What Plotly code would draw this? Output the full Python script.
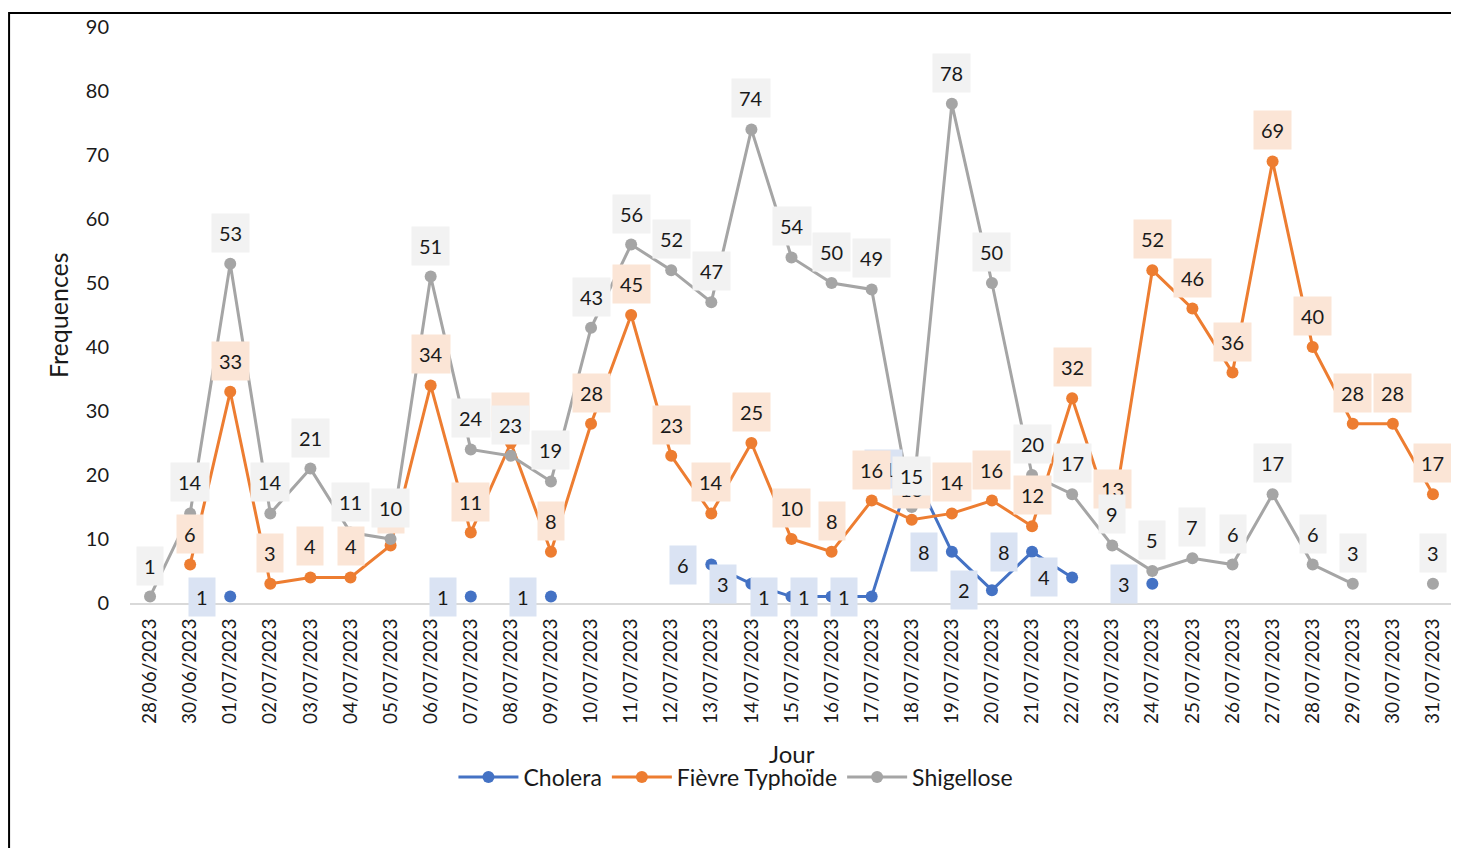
import plotly.graph_objects as go

dates = ["28/06/2023", "30/06/2023"] + [f"{d:02d}/07/2023" for d in range(1, 32)]

cholera = [None, None, 1, None, None, None, None, None, 1, None, 1, None, None, None,
           6, 3, 1, 1, 1, 21, 8, 2, 8, 4, None, 3, None, None, None, None, None, None, None]
typhoide = [None, 6, 33, 3, 4, 4, 9, 34, 11, 25, 8, 28, 45, 23, 14, 25, 10, 8, 16, 13,
            14, 16, 12, 32, 13, 52, 46, 36, 69, 40, 28, 28, 17]
shigellose = [1, 14, 53, 14, 21, 11, 10, 51, 24, 23, 19, 43, 56, 52, 47, 74, 54, 50, 49, 15,
              78, 50, 20, 17, 9, 5, 7, 6, 17, 6, 3, None, 3]

series_names = ["Cholera", "Fièvre Typhoïde", "Shigellose"]
series_values = [cholera, typhoide, shigellose]
line_colors = ["#4472C4", "#ED7D31", "#A5A5A5"]
label_bg = ["#DAE3F3", "#FBE5D6", "#F2F2F2"]
y_ticks = [0, 10, 20, 30, 40, 50, 60, 70, 80, 90]

FONT = "Lato"
TXT = "#1a1a1a"

fig = go.Figure()
for name, vals, col in zip(series_names, series_values, line_colors):
    fig.add_trace(go.Scatter(
        x=dates, y=vals, name=name, mode="lines+markers",
        line=dict(color=col, width=3),
        marker=dict(color=col, size=12),
        connectgaps=False,
    ))

annotations = []
for i, (vals, bg) in enumerate(zip(series_values, label_bg)):
    for d, v in zip(dates, vals):
        if v is None:
            continue
        if i == 0:
            shift = dict(xshift=-28, yshift=0)
        else:
            shift = dict(xshift=0, yshift=31)
        annotations.append(dict(
            x=d, y=v, xref="x", yref="y", text=str(v), showarrow=False,
            bgcolor=bg, borderpad=7, xanchor="center", yanchor="middle",
            font=dict(family=FONT, size=20, color=TXT), **shift))

annotations.append(dict(x=0.5, y=-0.262, xref="paper", yref="paper", text="Jour",
                        showarrow=False, xanchor="center", yanchor="middle",
                        font=dict(family=FONT, size=24, color=TXT)))
annotations.append(dict(x=-0.0544, y=0.5, xref="paper", yref="paper", text="Frequences",
                        showarrow=False, textangle=-90, xanchor="center", yanchor="middle",
                        font=dict(family=FONT, size=25, color=TXT)))

fig.update_layout(
    width=1451, height=840,
    margin=dict(l=122, r=6, t=15, b=245),
    paper_bgcolor="white", plot_bgcolor="white",
    font=dict(family=FONT, size=19, color=TXT),
    showlegend=True,
    legend=dict(orientation="h", x=0.458, y=-0.302, xanchor="center", yanchor="middle",
                font=dict(family=FONT, size=23, color=TXT), itemwidth=60,
                tracegroupgap=30, bgcolor="rgba(0,0,0,0)"),
    annotations=annotations,
    shapes=[dict(type="rect", xref="paper", yref="paper", x0=-0.0914, x1=1.0,
                 y0=-0.6, y1=1.0241, line=dict(color="black", width=2))],
)
fig.update_xaxes(type="category", categoryorder="array", categoryarray=dates,
                 range=[-0.5, len(dates) - 0.5], tickangle=-90, showgrid=False,
                 showline=True, linecolor="#D9D9D9", linewidth=2, ticks="",
                 tickfont=dict(family=FONT, size=19, color=TXT), ticklabelstandoff=6)
fig.update_yaxes(range=[0, 90], tickvals=y_ticks, showgrid=False, zeroline=False,
                 showline=False, ticks="", tickfont=dict(family=FONT, size=20, color=TXT),
                 ticklabelstandoff=20)

fig.write_html("out.html")
